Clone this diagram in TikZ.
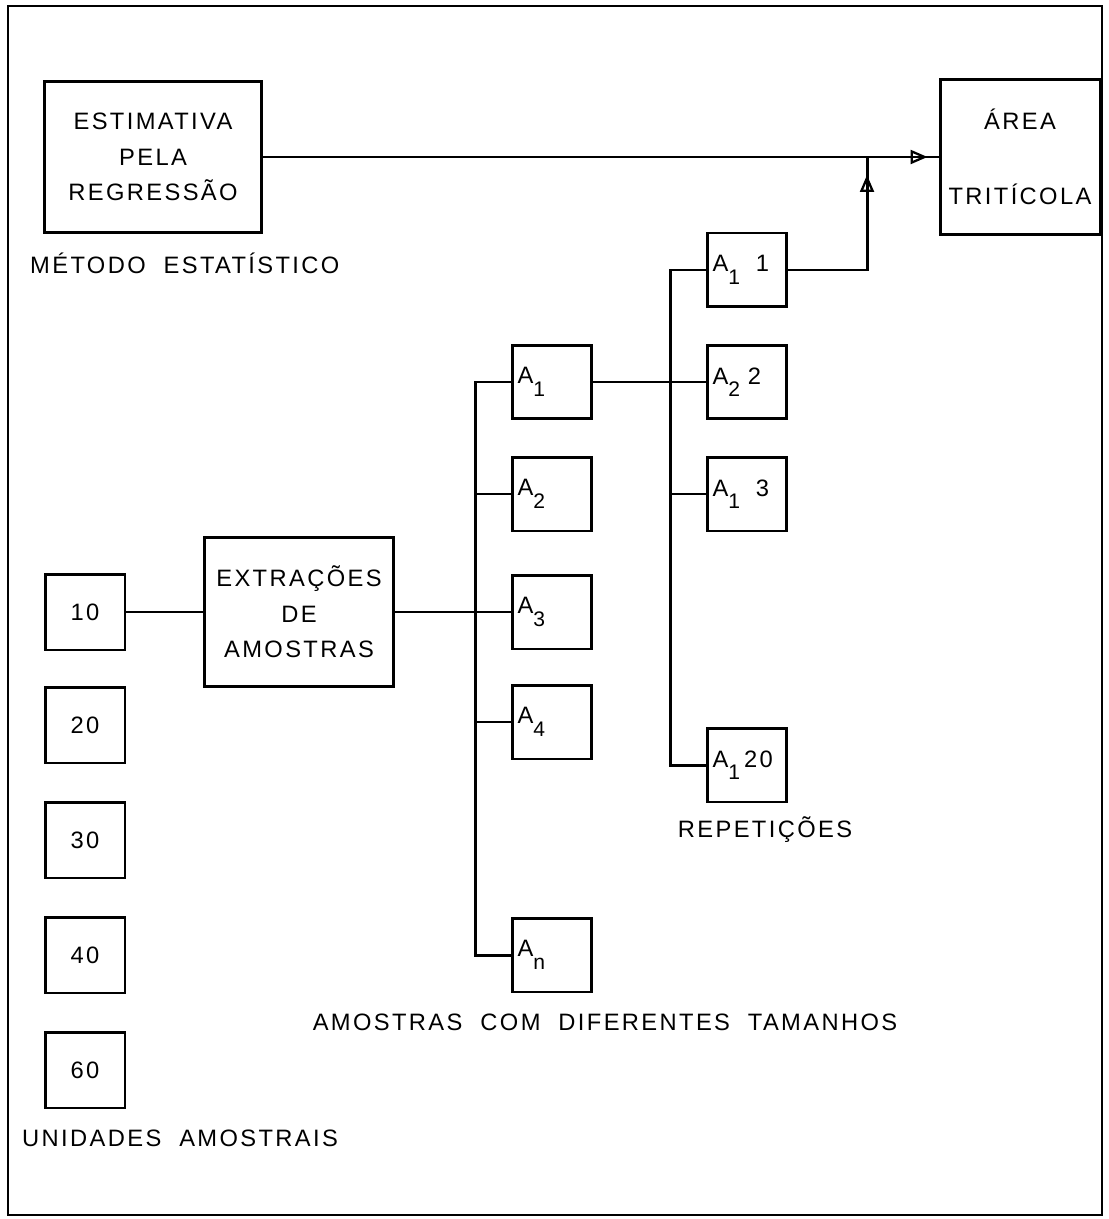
\documentclass[tikz,border=0pt]{standalone}
\usepackage{fontspec}
\setmainfont{Liberation Sans}[LetterSpace=10]
\usepackage{tikz}
\usetikzlibrary{arrows.meta,decorations.markings,calc}
\newcommand{\idx}[1]{\raisebox{-1.0ex}{\fontsize{12}{14}\selectfont #1}}
\tikzset{
  box/.style={draw, rectangle, align=center, line width=1.7pt, inner sep=1mm},
  unitbox/.style={draw, rectangle, line width=1.7pt, minimum width=1.6cm, minimum height=1.52cm},
  sampbox/.style={draw, rectangle, line width=1.7pt, minimum width=1.58cm, minimum height=1.48cm, text width=1.38cm, inner xsep=0.6mm, align=left},
  caption/.style={font=\fontsize{13.5}{16}\selectfont},
  link/.style={line width=1.7pt},
  arrowat/.style={line width=1.7pt, postaction={decorate}, decoration={markings,
      mark=at position #1 with {\arrow{Triangle[open,length=0.34cm,width=0.28cm,line width=1.3pt]}}}}
}
\begin{document}
\begin{tikzpicture}[x=0.02cm, y=-0.02cm, font=\fontsize{13.5}{16}\selectfont]
\useasboundingbox (0,0) rectangle (1108,1219);
\draw[line width=1.4pt] (8,6) rectangle (1102,1215);

\node[box, minimum width=4.34cm, minimum height=3.04cm] (est) at (153,157) {ESTIMATIVA\\[0.15cm]PELA\\[0.15cm]REGRESSÃO};
\node[caption, anchor=west] (metodo) at (24,263) {MÉTODO\ \ ESTATÍSTICO};
\node[box, minimum width=3.2cm, minimum height=3.1cm] (area) at (1020,157) {ÁREA\\[0.95cm]TRITÍCOLA};

\node[box, minimum width=3.8cm, minimum height=3.0cm] (extr) at (299,612) {EXTRAÇÕES\\[0.15cm]DE\\[0.15cm]AMOSTRAS};

% unidades amostrais
\node[unitbox] (u10) at (85,612) {10};
\node[unitbox] (u20) at (85,725) {20};
\node[unitbox] (u30) at (85,840) {30};
\node[unitbox] (u40) at (85,955) {40};
\node[unitbox] (u60) at (85,1070) {60};
\node[caption, anchor=west] (unid) at (16,1138) {UNIDADES\ \ AMOSTRAIS};

% amostras
\node[sampbox] (a1) at (552,382) {A\idx{1}};
\node[sampbox] (a2) at (552,494) {A\idx{2}};
\node[sampbox] (a3) at (552,612) {A\idx{3}};
\node[sampbox] (a4) at (552,722) {A\idx{4}};
\node[sampbox] (an) at (552,955) {A\idx{n}};
\node[caption] (tam) at (605,1022) {AMOSTRAS\ \ COM\ \ DIFERENTES\ \ TAMANHOS};

% repeticoes
\node[sampbox] (r1) at (747,270) {A\idx{1}\ \ 1};
\node[sampbox] (r2) at (747,382) {A\idx{2}\ 2};
\node[sampbox] (r3) at (747,494) {A\idx{1}\ \ 3};
\node[sampbox] (r20) at (747,765) {A\idx{1}\,20};
\node[caption] (rep) at (765,830) {REPETIÇÕES};

\coordinate (bus) at (475,0);
\coordinate (rbus) at (670,0);
\coordinate (jn) at (867,157);

\draw[link] (u10) -- (extr);
\draw[link] (extr) -- (a3);
\draw[link] (a1.west) -- (a1.west -| bus) -- (an.west -| bus) -- (an.west);
\draw[link] (a2.west) -- (a2.west -| bus);
\draw[link] (a4.west) -- (a4.west -| bus);
\draw[link] (a1) -- (r2);
\draw[link] (r1.west) -- (r1.west -| rbus) -- (r20.west -| rbus) -- (r20.west);
\draw[link] (r3.west) -- (r3.west -| rbus);
\draw[arrowat=-0.22cm] (est) -- (area);
\draw[arrowat=-0.36cm] (r1.east) -| (jn);
\end{tikzpicture}
\end{document}
